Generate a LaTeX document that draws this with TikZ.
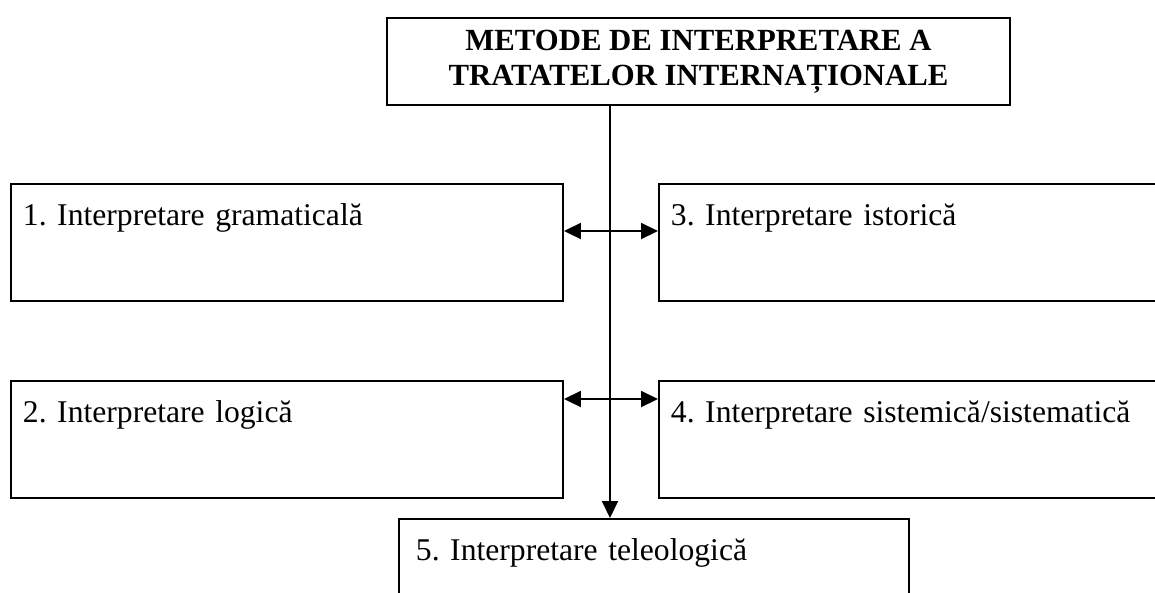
\documentclass[tikz,border=0pt]{standalone}
\usepackage{fontspec}
\setmainfont{Liberation Serif}
\usetikzlibrary{arrows.meta,positioning}
\frenchspacing

\tikzset{
  titlebox/.style={draw,line width=1.1pt,minimum width=124.6mm,minimum height=17.4mm,
    align=center,font=\fontsize{17.5}{20}\selectfont\bfseries},
  methodbox/.style={draw,line width=1.1pt,anchor=north west,inner xsep=2.4mm,inner ysep=4mm,
    text height=4.4mm,text depth=11mm,align=left,font=\fontsize{18}{21}\selectfont},
  link/.style={line width=1.1pt}
}

\begin{document}
\begin{tikzpicture}[x=0.2mm,y=-0.2mm,>={Triangle[length=3.4mm,width=3.2mm]}]
\useasboundingbox (0,0) rectangle (1155,592);
\node[titlebox] (title) at (698.5,61.5) {METODE DE INTERPRETARE A\\TRATATELOR INTERNAȚIONALE};
% metodele, stanga si dreapta
\node[methodbox,text width=105.6mm] (m1) at (10,183) {1. Interpretare gramaticală};
\node[methodbox,text width=105.6mm] (m2) at (10,380) {2. Interpretare logică};
\node[methodbox,text width=98.6mm] (m3) at (658,183) {3. Interpretare istorică};
\node[methodbox,text width=98.6mm] (m4) at (658,380) {4. Interpretare sistemică/sistematică};
\node[methodbox,inner xsep=3.4mm,text width=95.2mm] (m5) at (398,518) {5. Interpretare teleologică};
% legaturi
\coordinate (axis) at (610,0);
\draw[link,->] (axis |- title.south) -- (axis |- m5.north);
\draw[link,<->] ([yshift=-9.6mm]m1.north east) -- ([yshift=-9.6mm]m3.north west);
\draw[link,<->] ([yshift=-3.8mm]m2.north east) -- ([yshift=-3.8mm]m4.north west);
\end{tikzpicture}
\end{document}
